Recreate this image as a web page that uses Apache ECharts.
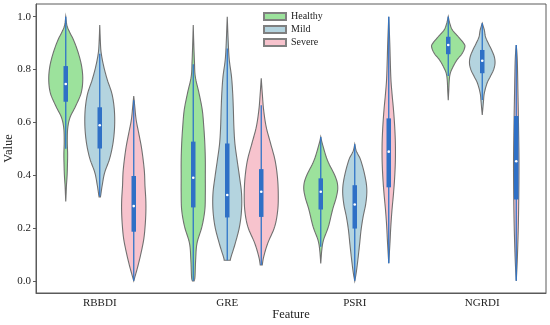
<!DOCTYPE html>
<html>
<head>
<meta charset="utf-8">
<script src="https://cdn.jsdelivr.net/npm/echarts@6/dist/echarts.min.js"></script>
<style>html,body{margin:0;padding:0;background:#fff}#c{width:550px;height:325px}</style>
</head>
<body>
<div id="c"></div>
<script>
const categories = ['RBBDI', 'GRE', 'PSRI', 'NGRDI'];
const hues = ['Healthy', 'Mild', 'Severe'];
const yTicks = [0, 0.2, 0.4, 0.6, 0.8, 1.0];

// density profiles: [value, relative density] from top to bottom
const healthyDensity = [
  [[1.0,0],[0.96,0.1],[0.91,0.47],[0.86,0.75],[0.81,0.94],[0.76,1.0],[0.71,0.9],[0.66,0.57],[0.62,0.26],[0.58,0.12],[0.53,0.09],[0.48,0.11],[0.44,0.1],[0.40,0.08],[0.36,0.04],[0.33,0.02],[0.30,0]],
  [[0.968,0],[0.90,0.03],[0.83,0.07],[0.773,0.12],[0.71,0.34],[0.647,0.53],[0.583,0.62],[0.52,0.68],[0.457,0.71],[0.394,0.71],[0.331,0.71],[0.268,0.68],[0.205,0.51],[0.142,0.22],[0.078,0.14],[0.015,0.1],[0.0,0.05]],
  [[0.545,0],[0.52,0.09],[0.457,0.39],[0.394,0.86],[0.356,1.0],[0.318,0.92],[0.268,0.69],[0.205,0.45],[0.154,0.16],[0.116,0.06],[0.066,0]],
  [[1.0,0],[0.975,0.09],[0.95,0.24],[0.924,0.59],[0.9,0.9],[0.886,0.98],[0.861,0.82],[0.836,0.51],[0.81,0.28],[0.786,0.12],[0.76,0.06],[0.72,0.03],[0.684,0]]
];
const mildDensity = [
  [[0.968,0],[0.90,0.04],[0.86,0.09],[0.81,0.24],[0.76,0.45],[0.71,0.71],[0.66,0.84],[0.61,0.88],[0.56,0.85],[0.51,0.75],[0.46,0.57],[0.41,0.29],[0.36,0.14],[0.33,0.07],[0.318,0.04]],
  [[1.0,0],[0.9,0.06],[0.836,0.12],[0.773,0.25],[0.71,0.32],[0.647,0.36],[0.583,0.39],[0.52,0.45],[0.457,0.58],[0.394,0.72],[0.331,0.84],[0.268,0.84],[0.205,0.72],[0.142,0.47],[0.09,0.22],[0.078,0.18]],
  [[0.517,0],[0.49,0.1],[0.457,0.35],[0.394,0.61],[0.344,0.71],[0.293,0.65],[0.242,0.49],[0.192,0.37],[0.142,0.29],[0.078,0.18],[0.028,0.08],[0.0,0]],
  [[0.975,0],[0.95,0.12],[0.924,0.19],[0.9,0.35],[0.874,0.55],[0.848,0.71],[0.823,0.75],[0.798,0.66],[0.773,0.47],[0.748,0.28],[0.71,0.12],[0.678,0.07],[0.628,0]]
];
const severeDensity = [
  [[0.70,0],[0.66,0.06],[0.61,0.14],[0.56,0.29],[0.51,0.44],[0.46,0.55],[0.41,0.63],[0.36,0.66],[0.305,0.71],[0.255,0.71],[0.20,0.66],[0.154,0.58],[0.10,0.41],[0.05,0.22],[0.0,0]],
  [[0.767,0],[0.71,0.06],[0.647,0.14],[0.583,0.29],[0.52,0.55],[0.457,0.81],[0.394,0.95],[0.331,1.0],[0.268,0.97],[0.205,0.79],[0.142,0.38],[0.09,0.14],[0.06,0.06]],
  [[1.0,0],[0.9,0.06],[0.773,0.12],[0.71,0.19],[0.647,0.28],[0.583,0.35],[0.52,0.39],[0.457,0.39],[0.394,0.35],[0.331,0.28],[0.268,0.19],[0.205,0.12],[0.142,0.07],[0.067,0]],
  [[0.893,0],[0.836,0.06],[0.71,0.1],[0.583,0.135],[0.457,0.16],[0.331,0.15],[0.205,0.12],[0.078,0.06],[0.0,0]]
];

// box stats: [whisker low, q1, median, q3, whisker high]
const healthyBox = [[0.50,0.678,0.745,0.813,1.0],[0.0,0.278,0.39,0.527,0.82],[0.129,0.27,0.337,0.388,0.545],[0.775,0.858,0.893,0.924,1.0]];
const mildBox = [[0.32,0.501,0.589,0.657,0.86],[0.078,0.24,0.325,0.52,0.88],[0.0,0.198,0.289,0.362,0.517],[0.685,0.786,0.833,0.874,0.975]];
const severeBox = [[0.0,0.186,0.283,0.397,0.684],[0.06,0.242,0.337,0.423,0.665],[0.067,0.354,0.489,0.615,1.0],[0.0,0.308,0.453,0.624,0.893]];

const hueColors = ['#9ce29c', '#b4d4df', '#f7c3cd'];
const densities = [healthyDensity, mildDensity, severeDensity];
const boxes = [healthyBox, mildBox, severeBox];

function catmull(pts, n) {
  const out = [];
  for (let i = 0; i < pts.length - 1; i++) {
    const p0 = pts[Math.max(0, i - 1)], p1 = pts[i], p2 = pts[i + 1], p3 = pts[Math.min(pts.length - 1, i + 2)];
    for (let k = 0; k < n; k++) {
      const t = k / n, t2 = t * t, t3 = t2 * t;
      const f = (a, b, c, d) => 0.5 * ((2 * b) + (-a + c) * t + (2 * a - 5 * b + 4 * c - d) * t2 + (-a + 3 * b - 3 * c + d) * t3);
      out.push([f(p0[0], p1[0], p2[0], p3[0]), f(p0[1], p1[1], p2[1], p3[1])]);
    }
  }
  out.push(pts[pts.length - 1]);
  return out;
}

function makeRender(h) {
  return function (params, api) {
    const i = api.value(0);
    const bw = api.size([1, 0])[0];
    const hw = bw * 0.8 / 3;
    const cx = api.coord([i, 0])[0] + (h - 1) * hw;
    const prof = densities[h][i];
    const pts = prof.map(p => [p[1] * hw / 2, api.coord([i, p[0]])[1]]);
    const sm = catmull(pts, 8);
    const right = sm.map(p => [cx + Math.max(0, p[0]), p[1]]);
    const left = sm.slice().reverse().map(p => [cx - Math.max(0, p[0]), p[1]]);
    const lo = api.coord([i, api.value(1)])[1];
    const q1 = api.coord([i, api.value(2)])[1];
    const md = api.coord([i, api.value(3)])[1];
    const q3 = api.coord([i, api.value(4)])[1];
    const hi = api.coord([i, api.value(5)])[1];
    const bwid = 4.5;
    return {
      type: 'group',
      children: [
        { type: 'polygon', shape: { points: right.concat(left) }, style: { fill: hueColors[h], stroke: '#707070', lineWidth: 1.1 } },
        { type: 'line', shape: { x1: cx, y1: hi, x2: cx, y2: lo }, style: { stroke: '#2f74c8', lineWidth: 1.3 } },
        { type: 'rect', shape: { x: cx - bwid / 2, y: q3, width: bwid, height: q1 - q3 }, style: { fill: '#2f70c6' } },
        { type: 'circle', shape: { cx: cx, cy: md, r: 1.3 }, style: { fill: '#ffffff' } }
      ]
    };
  };
}

const series = hues.map((name, h) => ({
  type: 'custom',
  name: name,
  itemStyle: { color: hueColors[h], borderColor: '#808080', borderWidth: 0.8 },
  renderItem: makeRender(h),
  encode: { x: 0, y: [1, 2, 3, 4, 5] },
  data: categories.map((c, i) => [i].concat(boxes[h][i]))
}));

const chart = echarts.init(document.getElementById('c'));
chart.setOption({
  animation: false,
  backgroundColor: '#ffffff',
  textStyle: { fontFamily: 'Liberation Serif' },
  grid: { left: 36, right: 4, top: 4, bottom: 32, show: true, borderColor: '#5a5a5a', borderWidth: 1, containLabel: false, outerBoundsMode: 'none' },
  legend: {
    data: hues,
    orient: 'vertical',
    left: 263, top: 10.5,
    padding: 0,
    icon: 'rect',
    itemWidth: 22, itemHeight: 7, itemGap: 1,
    textStyle: { fontFamily: 'Liberation Serif', fontSize: 10, color: '#222', lineHeight: 12 }
  },
  xAxis: {
    type: 'category',
    data: categories,
    name: 'Feature',
    nameLocation: 'middle',
    nameGap: 15,
    nameMoveOverlap: false,
    nameTextStyle: { fontFamily: 'Liberation Serif', fontSize: 12.5, color: '#222', verticalAlign: 'top' },
    axisLine: { onZero: false, lineStyle: { color: '#5a5a5a', width: 1 } },
    axisTick: { alignWithLabel: true, length: 3, lineStyle: { color: '#5a5a5a' } },
    axisLabel: { fontFamily: 'Liberation Serif', fontSize: 11, color: '#222', margin: 5 },
    splitLine: { show: false }
  },
  yAxis: {
    type: 'value',
    min: -0.046, max: 1.048,
    name: 'Value',
    nameLocation: 'middle',
    nameGap: 21,
    nameMoveOverlap: false,
    nameTextStyle: { fontFamily: 'Liberation Serif', fontSize: 12.5, color: '#222', verticalAlign: 'bottom' },
    axisLine: { show: true, lineStyle: { color: '#5a5a5a', width: 1 } },
    axisTick: { show: true, length: 3, customValues: yTicks, lineStyle: { color: '#5a5a5a' } },
    axisLabel: { fontFamily: 'Liberation Serif', fontSize: 11, color: '#222', margin: 5, customValues: yTicks, formatter: v => v.toFixed(1) },
    splitLine: { show: false }
  },
  series: series
});
</script>
</body>
</html>
